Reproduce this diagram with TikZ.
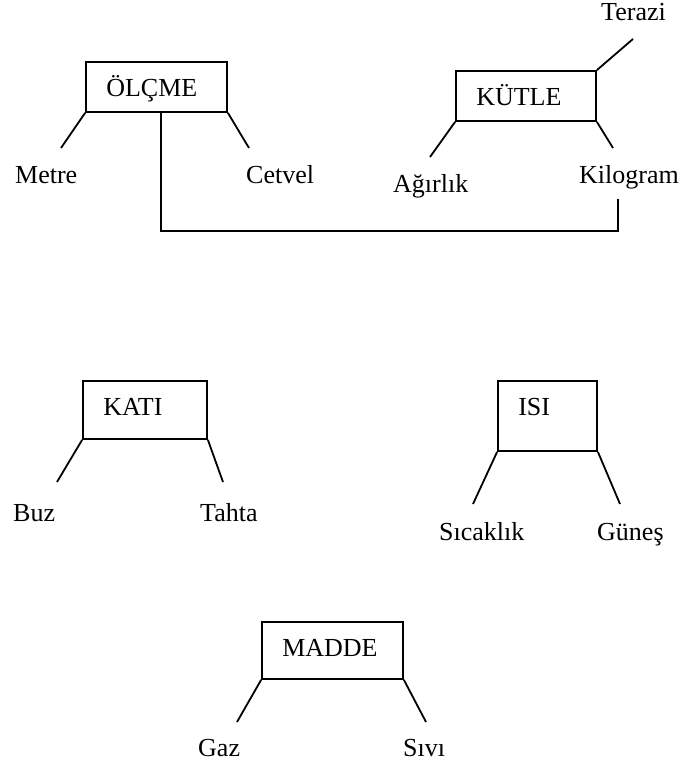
\documentclass[tikz,border=0pt]{standalone}
\usepackage{fontspec}
\setmainfont{Liberation Serif}
\usetikzlibrary{calc}
\begin{document}
\begin{tikzpicture}[x=1pt,y=-1pt,
  conceptbox/.style={draw, line width=1.8pt, inner sep=0pt},
  word/.style={font=\fontsize{26}{30}\selectfont, inner sep=0pt, anchor=base west},
  link/.style={line width=1.8pt}]
\useasboundingbox (0,0) rectangle (683,765);

% ---------- ÖLÇME ----------
\node[conceptbox, minimum width=141pt, minimum height=50pt] (olcme) at (156.5,87) {};
\node[word] (olcmetxt) at ($(olcme.north west)+(21,35.5)$) {ÖLÇME};
\node[word] (metre) at (15,183) {Metre};
\node[word] (cetvel) at (246,183) {Cetvel};
\coordinate (metreend) at (61,148);
\coordinate (cetvelend) at (249,148);
\draw[link] (olcme.south west) -- (metreend);
\draw[link] (olcme.south east) -- (cetvelend);

% ---------- KÜTLE ----------
\node[conceptbox, minimum width=140pt, minimum height=50pt] (kutle) at (526,96) {};
\node[word] (kutletxt) at ($(kutle.north west)+(21,35.5)$) {KÜTLE};
\node[word] (terazi) at (601,21) {Terazi};
\node[word] (agirlik) at (393,192) {Ağırlık};
\node[word] (kilogram) at (579,183) {Kilogram};
\coordinate (teraziend) at (633,39);
\coordinate (agirlikend) at (430,157);
\coordinate (kilogramend) at (613,148);
\draw[link] (kutle.north east) -- (teraziend);
\draw[link] (kutle.south west) -- (agirlikend);
\draw[link] (kutle.south east) -- (kilogramend);

% link from ÖLÇME down and across to Kilogram
\coordinate (olcmedrop) at ($(olcme.south west)+(76,0)$);
\coordinate (kilobend) at (618,231);
\coordinate (kilotop) at (618,199);
\draw[link] (olcmedrop) |- (kilobend) -- (kilotop);

% ---------- KATI ----------
\node[conceptbox, minimum width=124pt, minimum height=58pt] (kati) at (145,410) {};
\node[word] (katitxt) at ($(kati.north west)+(21,35.5)$) {KATI};
\node[word] (buz) at (13,521) {Buz};
\node[word] (tahta) at (200,521) {Tahta};
\coordinate (buzend) at (57,482);
\coordinate (tahtaend) at (223,482);
\draw[link] (kati.south west) -- (buzend);
\draw[link] (kati.south east) -- (tahtaend);

% ---------- ISI ----------
\node[conceptbox, minimum width=99pt, minimum height=70pt] (isi) at (547.5,416) {};
\node[word] (isitxt) at ($(isi.north west)+(21,35.5)$) {ISI};
\node[word] (sicaklik) at (439,540) {Sıcaklık};
\node[word] (gunes) at (597,540) {Güneş};
\coordinate (sicaklikend) at (473,504);
\coordinate (gunesend) at (620,504);
\draw[link] (isi.south west) -- (sicaklikend);
\draw[link] (isi.south east) -- (gunesend);

% ---------- MADDE ----------
\node[conceptbox, minimum width=141pt, minimum height=57pt] (madde) at (332.5,650.5) {};
\node[word] (maddetxt) at ($(madde.north west)+(21,35.5)$) {MADDE};
\node[word] (gaz) at (198,756) {Gaz};
\node[word] (sivi) at (403,756) {Sıvı};
\coordinate (gazend) at (237,722);
\coordinate (siviend) at (426,722);
\draw[link] (madde.south west) -- (gazend);
\draw[link] (madde.south east) -- (siviend);
\end{tikzpicture}
\end{document}
